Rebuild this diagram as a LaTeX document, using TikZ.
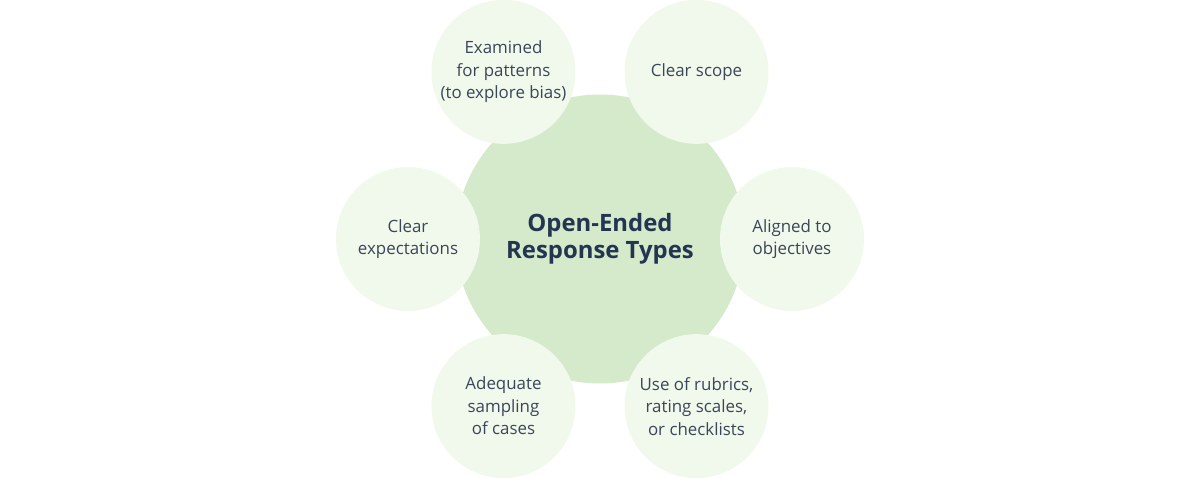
\documentclass[tikz,border=0pt]{standalone}
\usepackage{fontspec}
\setmainfont{Open Sans}
\usepackage{tikz}
\usetikzlibrary{positioning}
\definecolor{hubGreen}{HTML}{D4EACB}
\definecolor{leafGreen}{HTML}{F1F8EC}
\definecolor{leafText}{HTML}{3B4658}
\definecolor{hubText}{HTML}{233551}

\begin{document}
\begin{tikzpicture}[x=1pt, y=1pt,
    hub/.style={circle, fill=hubGreen, minimum size=289pt, inner sep=0pt,
      align=center, text=hubText, font=\fontsize{23.9}{27}\selectfont\bfseries},
    leaf/.style={circle, fill=leafGreen, minimum size=144pt, inner sep=0pt,
      align=center, text=leafText, font=\fontsize{16.9}{22.5}\selectfont}]
    \useasboundingbox (-600,-239) rectangle (600,239);
    % --- centre ---
    \node[hub] (resp) at (0,0) {Open-Ended\\Response Types};
    % --- surrounding criteria ---
    \node[leaf] (scope)   at (60:193)  {Clear scope};
    \node[leaf] (bias)    at (120:193) {Examined\\for patterns\\(to explore bias)};
    \node[leaf] (expect)  at (180:192) {Clear\\expectations};
    \node[leaf] (sample)  at (240:193) {Adequate\\sampling\\of cases};
    \node[leaf] (rubrics) at (300:193) {Use of rubrics,\\rating scales,\\or checklists};
    \node[leaf] (aligned) at (0:192)   {Aligned to\\objectives};
\end{tikzpicture}
\end{document}
